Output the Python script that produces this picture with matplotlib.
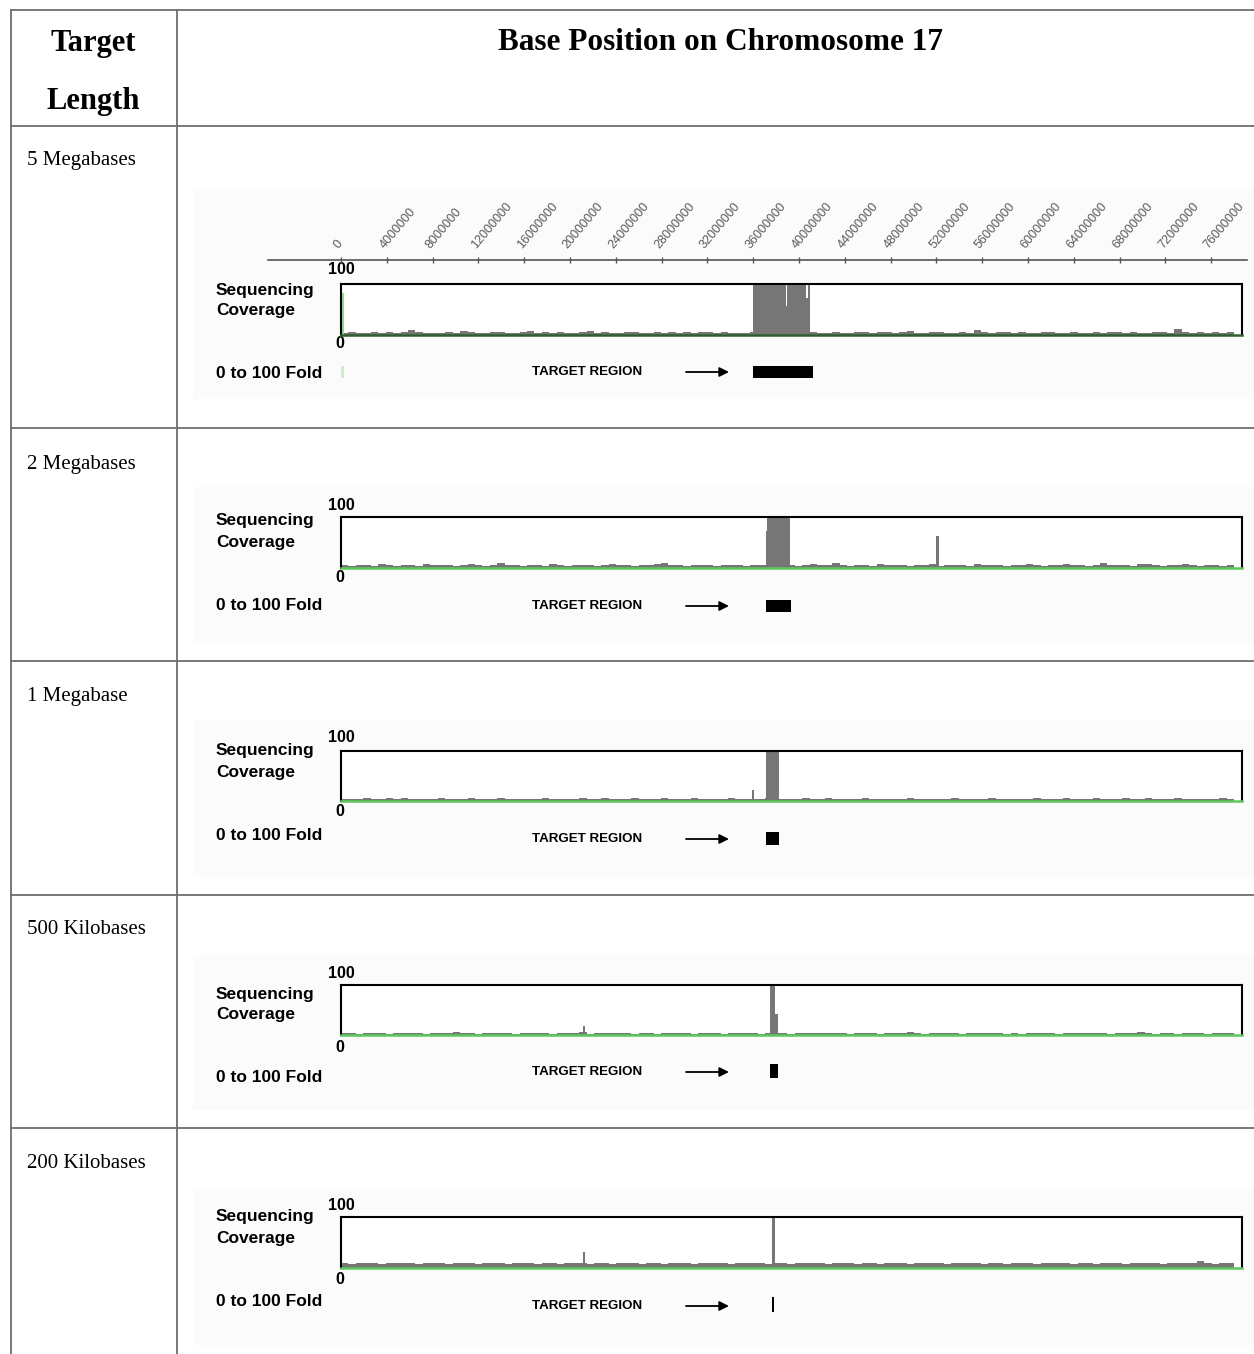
import numpy as np
import matplotlib
matplotlib.use("Agg")
import matplotlib.pyplot as plt
from matplotlib.patches import Rectangle

W, H = 1254, 1354
DPI = 100

# ---------------------------------------------------------------- data
row_labels = ["5 Megabases", "2 Megabases", "1 Megabase",
              "500 Kilobases", "200 Kilobases"]

chrom_end = 78.7e6        # right edge of the coverage window (bp)
coverage_end = 78.0e6     # last base with reported coverage (bp)

ruler_ticks = [0, 4000000, 8000000, 12000000, 16000000, 20000000,
               24000000, 28000000, 32000000, 36000000, 40000000,
               44000000, 48000000, 52000000, 56000000, 60000000,
               64000000, 68000000, 72000000, 76000000]

# binned background coverage (fold) along the chromosome
bg_5mb = [4, 5, 4, 3, 5, 4, 6, 4, 5, 9,
          5, 4, 3, 4, 5, 4, 8, 5, 4, 4,
          6, 5, 4, 3, 5, 7, 4, 5, 4, 6,
          3, 4, 5, 8, 4, 5, 4, 3, 5, 6,
          4, 4, 5, 3, 6, 4, 5, 4, 5, 6,
          4, 5, 4, 4, 4, 5, 6, 3, 4, 5,
          6, 4, 9, 5, 4, 4, 5, 3, 4, 6,
          5, 4, 5, 6, 4, 5, 7, 4, 4, 5,
          6, 4, 3, 5, 4, 9, 5, 4, 5, 6,
          4, 5, 3, 4, 5, 6, 4, 4, 5, 4,
          3, 5, 4, 6, 5, 4, 5, 4, 4, 5,
          6, 4, 12, 5, 3, 5, 4, 6, 4, 5]

bg_2mb = [5, 4, 6, 5, 4, 7, 5, 4, 5, 6,
          4, 8, 5, 5, 6, 4, 5, 7, 5, 4,
          5, 9, 6, 5, 4, 5, 6, 4, 8, 5,
          4, 5, 6, 5, 4, 5, 7, 6, 5, 4,
          5, 6, 8, 9, 6, 5, 4, 6, 5, 5,
          4, 5, 6, 5, 4, 5, 6, 5, 4, 5,
          6, 4, 5, 7, 5, 6, 9, 5, 4, 6,
          5, 4, 8, 5, 6, 5, 4, 6, 5, 7,
          4, 5, 6, 5, 4, 7, 5, 6, 5, 4,
          6, 5, 7, 5, 4, 6, 5, 8, 6, 5,
          4, 6, 9, 5, 6, 5, 4, 7, 8, 5,
          4, 6, 5, 8, 5, 4, 6, 5, 4, 6]

bg_1mb = [4, 5, 4, 6, 5, 4, 7, 5, 6, 4,
          5, 4, 5, 6, 4, 5, 4, 6, 5, 4,
          5, 6, 4, 5, 4, 4, 5, 6, 4, 5,
          4, 5, 6, 4, 5, 7, 4, 5, 4, 6,
          5, 4, 4, 6, 5, 4, 5, 6, 4, 5,
          5, 4, 6, 4, 5, 4, 5, 6, 5, 4,
          4, 5, 6, 5, 4, 6, 4, 5, 4, 5,
          6, 4, 5, 4, 5, 4, 6, 5, 4, 5,
          4, 5, 7, 4, 5, 4, 5, 6, 4, 5,
          5, 4, 5, 6, 4, 5, 4, 6, 5, 4,
          4, 6, 5, 4, 5, 6, 4, 5, 7, 4,
          5, 4, 6, 5, 4, 5, 4, 5, 6, 4]

bg_500kb = [4, 5, 3, 4, 5, 4, 3, 5, 4, 4,
            5, 3, 4, 5, 4, 6, 4, 5, 3, 4,
            4, 5, 4, 3, 5, 4, 4, 5, 3, 4,
            5, 4, 6, 3, 4, 5, 4, 5, 4, 3,
            4, 5, 3, 4, 4, 5, 4, 3, 5, 4,
            4, 3, 5, 4, 5, 4, 3, 4, 5, 4,
            3, 4, 5, 4, 4, 5, 4, 5, 3, 4,
            5, 4, 3, 4, 5, 4, 6, 4, 3, 4,
            4, 5, 4, 3, 4, 5, 4, 4, 5, 3,
            4, 3, 5, 4, 4, 5, 3, 4, 5, 4,
            5, 4, 4, 3, 5, 4, 4, 6, 4, 3,
            4, 5, 3, 4, 5, 4, 3, 4, 5, 4]

bg_200kb = [9, 8, 9, 10, 9, 8, 9, 9, 10, 9,
            8, 9, 9, 10, 8, 9, 9, 9, 8, 10,
            9, 9, 8, 9, 10, 9, 8, 9, 9, 8,
            9, 10, 9, 8, 9, 9, 8, 9, 10, 9,
            8, 9, 9, 8, 10, 9, 9, 8, 9, 9,
            10, 9, 8, 9, 9, 10, 9, 8, 9, 9,
            8, 9, 10, 9, 9, 8, 9, 10, 9, 8,
            9, 9, 8, 10, 9, 9, 8, 9, 9, 10,
            9, 8, 9, 9, 10, 9, 8, 9, 9, 8,
            10, 9, 9, 8, 9, 10, 9, 9, 8, 9,
            9, 8, 10, 9, 9, 8, 9, 10, 9, 9,
            8, 9, 9, 10, 9, 13, 9, 8, 9, 9]

# enriched stretches: (start bp, end bp, fold), capped at 100
peaks_5mb = [(36.0e6, 38.85e6, 100), (38.85e6, 38.95e6, 56),
             (38.95e6, 40.65e6, 100), (40.65e6, 40.75e6, 72),
             (40.75e6, 41.0e6, 100)]
peaks_2mb = [(37.1e6, 37.25e6, 73), (37.25e6, 39.2e6, 100)]
peaks_1mb = [(37.1e6, 38.3e6, 100)]
peaks_500kb = [(37.5e6, 37.9e6, 100), (37.9e6, 38.15e6, 42)]
peaks_200kb = [(37.65e6, 37.9e6, 100)]

# isolated off-target spikes: (position bp, fold)
spikes_5mb = []
spikes_2mb = [(52.1e6, 62)]
spikes_1mb = [(36.0e6, 23)]
spikes_500kb = [(21.2e6, 18)]
spikes_200kb = [(21.2e6, 32)]

# captured target intervals (bp)
targets = [(36.0e6, 41.2e6), (37.14e6, 39.3e6), (37.1e6, 38.3e6),
           (37.5e6, 38.15e6), (37.66e6, 37.86e6)]

# reference track drawn at the chromosome start in the first panel
start_marker = (0.0, 0.25e6, 82)

backgrounds = [bg_5mb, bg_2mb, bg_1mb, bg_500kb, bg_200kb]
peaks = [peaks_5mb, peaks_2mb, peaks_1mb, peaks_500kb, peaks_200kb]
spikes = [spikes_5mb, spikes_2mb, spikes_1mb, spikes_500kb, spikes_200kb]

# ---------------------------------------------------------------- layout (pixels)
BOX_X0, BOX_X1 = 341, 1242
RULER_X0, RULER_X1, RULER_Y = 268, 1247, 260
row_lines = [126, 428, 661, 895, 1128]
label_y = [160, 463, 696, 929, 1163]
rows = [
    dict(bt=284, bb=335, h100=270, h0=343, seq=290, cov=311, fold=374, tr=372, rt=366, rb=378, pt=188, pb=399),
    dict(bt=517, bb=568, h100=505, h0=578, seq=521, cov=542, fold=605, tr=606, rt=600, rb=612, pt=487, pb=643),
    dict(bt=751, bb=801, h100=738, h0=811, seq=751, cov=772, fold=835, tr=839, rt=832, rb=845, pt=720, pb=877),
    dict(bt=985, bb=1035, h100=974, h0=1047, seq=994, cov=1015, fold=1078, tr=1072, rt=1064, rb=1078, pt=955, pb=1110),
    dict(bt=1217, bb=1268, h100=1206, h0=1279, seq=1217, cov=1238, fold=1301, tr=1306, rt=1297, rb=1312, pt=1188, pb=1345),
]
base_green = ["#2f5f2f", "#5cc85c", "#5cc85c", "#5cc85c", "#5cc85c"]

SERIF = ["Liberation Serif", "DejaVu Serif"]
SANS = ["Liberation Sans", "DejaVu Sans"]
GRID = "#6e6e6e"
FILL = "#767676"

fig = plt.figure(figsize=(W / DPI, H / DPI), dpi=DPI)
fig.patch.set_facecolor("white")


def px_axes(x0, y0, x1, y1, z=2):
    return fig.add_axes([x0 / W, 1 - y1 / H, (x1 - x0) / W, (y1 - y0) / H], zorder=z)


# full-page layer for the table frame and annotations, in pixel units
page = px_axes(0, 0, W, H, z=0)
page.set_xlim(0, W)
page.set_ylim(H, 0)
page.axis("off")

# table frame
page.plot([11, W], [10, 10], color=GRID, lw=1.3)
for y in row_lines:
    page.plot([11, W], [y, y], color=GRID, lw=1.3)
for x in (11, 177):
    page.plot([x, x], [10, H], color=GRID, lw=1.3)

page.text(93, 43, "Target", family=SERIF, weight="bold", fontsize=22,
          ha="center", va="center")
page.text(93, 101, "Length", family=SERIF, weight="bold", fontsize=22,
          ha="center", va="center")
page.text(720, 43, "Base Position on Chromosome 17", family=SERIF,
          weight="bold", fontsize=22.5, ha="center", va="center")

for lab, y in zip(row_labels, label_y):
    page.text(27, y + 1, lab, family=SERIF, fontsize=15, ha="left", va="center")

px_per_bp = (BOX_X1 - BOX_X0) / chrom_end

for i, r in enumerate(rows):
    # faint panel background
    page.add_patch(Rectangle((193, r["pt"]), W - 193, r["pb"] - r["pt"],
                             facecolor="#fbfbfb", edgecolor="none", zorder=0))

    page.text(216, r["seq"], "Sequencing", family=SANS, weight="bold",
              fontsize=12.5, ha="left", va="center")
    page.text(216, r["cov"], "Coverage", family=SANS, weight="bold",
              fontsize=12.5, ha="left", va="center")
    page.text(216, r["fold"], "0 to 100 Fold", family=SANS, weight="bold",
              fontsize=12.5, ha="left", va="center")
    page.text(341, r["h100"], "100", family=SANS, weight="bold",
              fontsize=11.5, ha="center", va="center")
    page.text(340, r["h0"], "0", family=SANS, weight="bold",
              fontsize=11.5, ha="center", va="center")
    page.text(587, r["tr"], "TARGET REGION", family=SANS, weight="bold",
              fontsize=9.6, ha="center", va="center")
    page.annotate("", xy=(729, r["tr"]), xytext=(686, r["tr"]),
                  arrowprops=dict(arrowstyle="-|>", color="black", lw=1.3,
                                  mutation_scale=14, shrinkA=0, shrinkB=0))

    # coverage box
    ax = px_axes(BOX_X0, r["bt"], BOX_X1, r["bb"], z=2)
    ax.set_facecolor("white")
    ax.set_xlim(0, chrom_end)
    ax.set_ylim(0, 100)
    ax.set_xticks([])
    ax.set_yticks([])
    for s in ("top", "left", "right"):
        ax.spines[s].set_linewidth(1.5)
        ax.spines[s].set_color("black")
    ax.spines["bottom"].set_linewidth(1.8)
    ax.spines["bottom"].set_color(base_green[i])

    bg = backgrounds[i]
    edges = np.linspace(0, coverage_end, len(bg) + 1)
    ax.stairs(bg, edges, fill=True, color=FILL, lw=0)
    for s0, s1, h in peaks[i]:
        ax.bar(s0, h, width=s1 - s0, align="edge", color=FILL, lw=0)
    for pos, h in spikes[i]:
        ax.bar(pos, h, width=0.2e6, align="center", color=FILL, lw=0)
    if i == 0:
        m0, m1, mh = start_marker
        ax.bar(m0, mh, width=m1 - m0, align="edge", color="#8fdc8f", lw=0)

    # target interval track
    tk = px_axes(BOX_X0, r["rt"], BOX_X1, r["rb"], z=2)
    tk.set_xlim(0, chrom_end)
    tk.set_ylim(0, 1)
    tk.axis("off")
    t0, t1 = targets[i]
    tk.bar(t0, 1, width=t1 - t0, align="edge", color="black", lw=0)
    if i == 0:
        tk.bar(start_marker[0], 1, width=start_marker[1] - start_marker[0],
               align="edge", color="#cdeccd", lw=0)

# base-position ruler above the first panel
ru = px_axes(RULER_X0, RULER_Y, RULER_X1, RULER_Y + 2, z=2)
ru.set_xlim(-(BOX_X0 - RULER_X0) / px_per_bp,
            chrom_end + (RULER_X1 - BOX_X1) / px_per_bp)
ru.patch.set_visible(False)
for s in ("bottom", "left", "right"):
    ru.spines[s].set_visible(False)
ru.spines["top"].set_color("#555555")
ru.spines["top"].set_linewidth(1.2)
ru.set_yticks([])
ru.xaxis.tick_top()
ru.set_xticks(ruler_ticks)
ru.set_xticklabels([str(t) for t in ruler_ticks], rotation=50,
                   ha="left", va="bottom", rotation_mode="anchor",
                   family=SANS, fontsize=9, color="#5a5a5a")
ru.tick_params(axis="x", direction="inout", length=5, width=1,
               color="#555555", pad=4)

fig.savefig("out.png", dpi=DPI, facecolor="white")
